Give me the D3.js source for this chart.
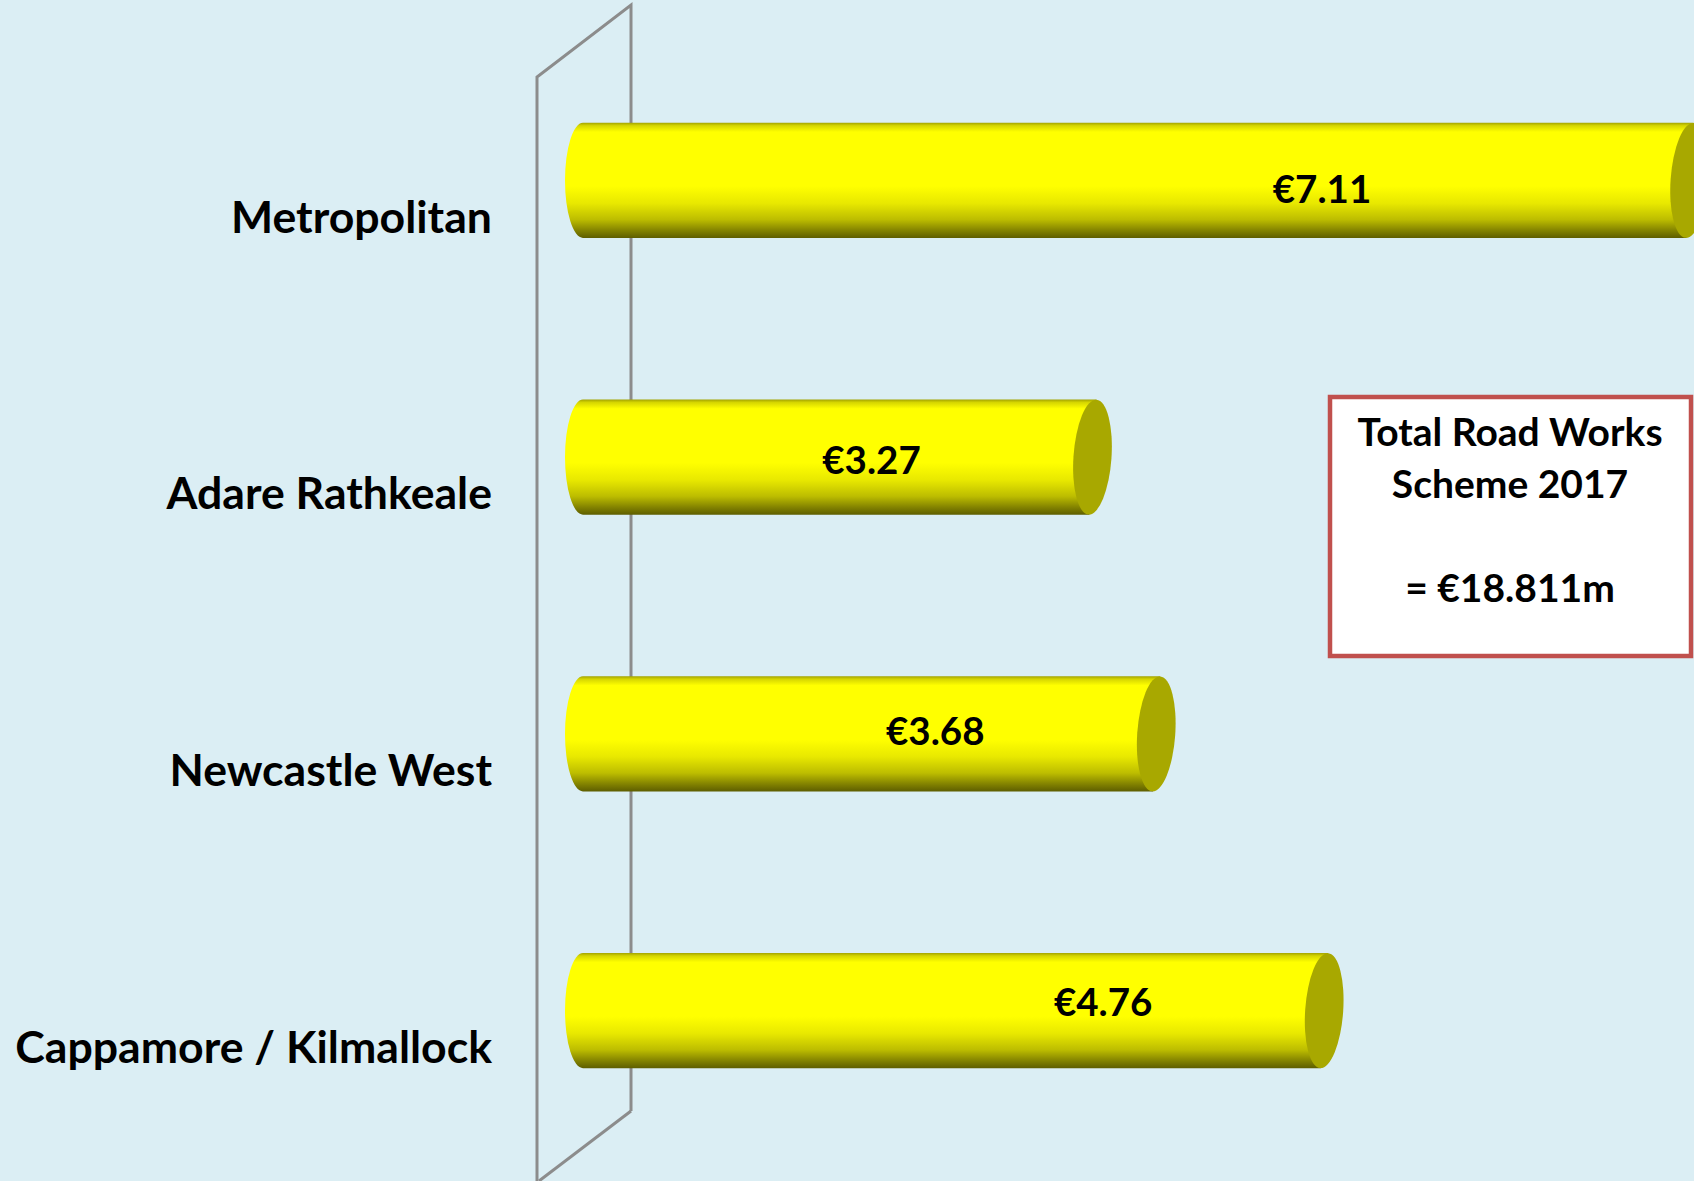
<!DOCTYPE html>
<html>
<head>
<meta charset="utf-8">
<script src="https://cdn.jsdelivr.net/npm/d3@7"></script>
<style>
  html, body { margin: 0; padding: 0; background: #DBEEF4; overflow: hidden; }
  svg { display: block; }
</style>
</head>
<body>
<svg id="chart" width="1694" height="1181"></svg>
<script>
// ---- data ----
const categories = ["Metropolitan", "Adare Rathkeale", "Newcastle West", "Cappamore / Kilmallock"];
const values = [7.11, 3.27, 3.68, 4.76];
const valueLabels = ["€7.11", "€3.27", "€3.68", "€4.76"];
const boxLines = ["Total Road Works", "Scheme 2017", "", "= €18.811m"];

// ---- layout ----
const W = 1694, H = 1181;
const svg = d3.select("#chart");
const FONT = "Lato, 'Open Sans', sans-serif";

svg.append("rect").attr("width", W).attr("height", H).attr("fill", "#DBEEF4");

const x = d3.scaleLinear().domain([0, 8]).range([583, 1827]);
const y = d3.scaleBand().domain(categories).range([42, 1149]).paddingInner(0.584).paddingOuter(0.292);

const defs = svg.append("defs");
const grad = defs.append("linearGradient").attr("id", "cyl").attr("x1", 0).attr("y1", 0).attr("x2", 0).attr("y2", 1);
[[0, "#A4A400"], [0.025, "#D6D600"], [0.08, "#FFFF00"], [0.55, "#FFFF00"], [0.7, "#E8E800"],
 [0.84, "#BDBD00"], [0.94, "#808000"], [1, "#5E5E00"]].forEach(([o, c]) =>
  grad.append("stop").attr("offset", o).attr("stop-color", c));

// ---- 3D axis wall ----
const x0 = x(0);
const frontX = x0 - 46, backX = x0 + 48;
const wall = svg.append("g").attr("fill", "none").attr("stroke", "#8C8C8C").attr("stroke-width", 3);
wall.append("path").attr("d", `M${backX},1111 L${backX},5 L${frontX},77 L${frontX},1181`);
wall.append("path").attr("d", `M${backX},1111 L${frontX + 2},1181`);

// ---- bars (cylinders) ----
const rxL = 18, rxR = 19;
const bars = svg.append("g").selectAll("g.bar").data(categories).join("g").attr("class", "bar");
bars.append("path")
  .attr("fill", "url(#cyl)")
  .attr("d", (c, i) => {
    const top = y(c), bot = y(c) + y.bandwidth(), ry = y.bandwidth() / 2;
    const xe = x(values[i]);
    return `M${x0},${top} L${xe + 5},${top} L${xe - 2},${bot} L${x0},${bot} A${rxL},${ry} 0 0 1 ${x0},${top} Z`;
  });
bars.append("ellipse")
  .attr("fill", "#A8A800")
  .attr("cx", 0).attr("cy", 0)
  .attr("rx", rxR).attr("ry", y.bandwidth() / 2)
  .attr("transform", (c, i) => `translate(${x(values[i]) + 1},${y(c) + y.bandwidth() / 2}) rotate(4)`);

// ---- value labels (slight perspective shift toward the middle) ----
const midY = (y.range()[0] + y.range()[1]) / 2;
svg.append("g").selectAll("text").data(categories).join("text")
  .attr("x", (c, i) => Math.min(x(values[i]) - 220, W - 372))
  .attr("y", (c) => {
    const cy = y(c) + y.bandwidth() / 2;
    return cy + 14 - (cy - midY) * 0.021;
  })
  .attr("text-anchor", "middle")
  .attr("font-family", FONT).attr("font-weight", "bold").attr("font-size", 38.5)
  .attr("fill", "#000")
  .text((c, i) => valueLabels[i]);

// ---- category axis ----
const axis = svg.append("g")
  .attr("transform", `translate(${frontX},38)`)
  .call(d3.axisLeft(y).tickSize(0).tickPadding(45));
axis.select(".domain").remove();
axis.selectAll("text")
  .attr("font-family", FONT).attr("font-weight", "bold").attr("font-size", 44.6)
  .attr("fill", "#000");

// ---- text box ----
const box = svg.append("g");
box.append("rect").attr("x", 1330).attr("y", 397).attr("width", 361).attr("height", 259)
  .attr("fill", "#FFFFFF").attr("stroke", "#C0504D").attr("stroke-width", 4.5);
box.selectAll("text").data(boxLines).join("text")
  .attr("x", 1510)
  .attr("y", (d, i) => 446 + i * 52)
  .attr("text-anchor", "middle")
  .attr("font-family", FONT).attr("font-weight", "bold").attr("font-size", 39)
  .attr("fill", "#000")
  .text(d => d);
</script>
</body>
</html>
